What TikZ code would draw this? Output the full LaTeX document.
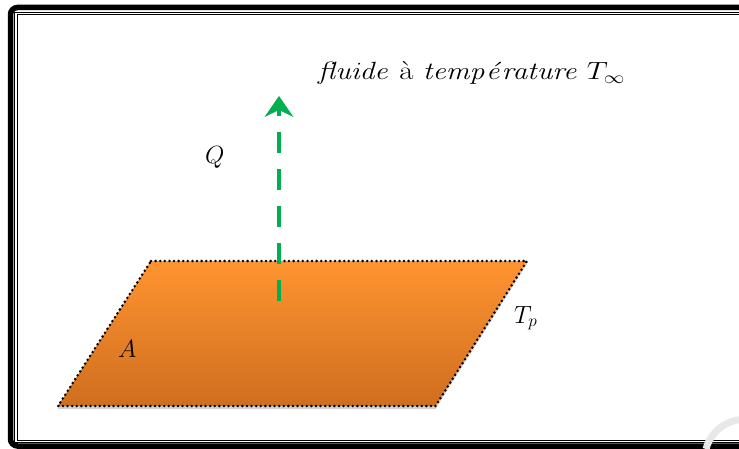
\documentclass[tikz,border=0pt]{standalone}
\usetikzlibrary{shadows,arrows.meta}
\definecolor{orangetop}{HTML}{FF9430}
\definecolor{orangebot}{HTML}{CF6E1F}
\definecolor{arrowgreen}{HTML}{00B050}
\tikzset{
  lbl/.style={inner sep=0pt, anchor=base west, font=\fontsize{26}{30}\selectfont},
  plate/.style={draw=black, line width=2.8pt, dash pattern=on 0pt off 4.6pt, line cap=round,
    top color=orangetop, bottom color=orangebot,
    drop shadow={shadow xshift=0pt, shadow yshift=-3pt, opacity=0.3, fill=black!60}},
  heatflow/.style={draw=arrowgreen, line width=4.5pt, dash pattern=on 21pt off 16pt,
    -{Stealth[length=21pt,width=29pt,inset=7pt, line width=0pt, fill=arrowgreen]}}
}
\begin{document}
\begin{tikzpicture}[x=1pt,y=-1pt]
\useasboundingbox (0,0) rectangle (739,449);
\begin{scope}
\clip (0,0) rectangle (739,449);
% frame
\draw[line width=5.5pt, rounded corners=7pt] (10.5,7.5) rectangle (790,446);
\draw[line width=1pt] (14.5,12.5) -- (790,12.5);
\draw[line width=1pt] (14.5,12.5) -- (14.5,442.5) -- (790,442.5);
\draw[line width=1pt] (17,15) -- (790,15);
\draw[line width=1pt] (17,15) -- (17,440) -- (790,440);
% watermark
\draw[black!9, line width=7pt] (706,449) arc[start angle=195, end angle=280, radius=40];
\end{scope}
% plate
\path[plate] (151,261) coordinate (p1) -- (527,261) coordinate (p2) -- (435.5,406) coordinate (p3) -- (58,406) coordinate (p4) -- cycle;
% arrow
\coordinate (qs) at (279,301);
\coordinate (qe) at (279,96);
\draw[heatflow] (qs) -- (qe);
% labels
\node[lbl, xscale=1.19] (fl) at (318,80) {$\mathit{fluide}$ à $\mathit{temp\acute{e}rature}\;T_\infty$};
\node[lbl] (Q) at (205,164) {$Q$};
\node[lbl] (A) at (118,357) {$A$};
\node[lbl] (Tp) at (514,323) {$T_p$};
\end{tikzpicture}
\end{document}
